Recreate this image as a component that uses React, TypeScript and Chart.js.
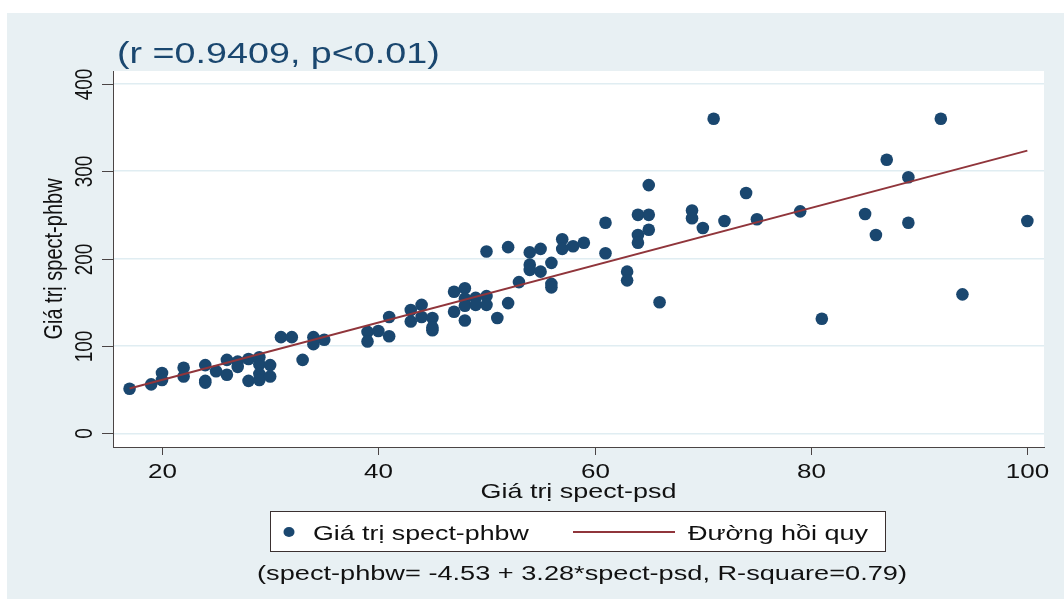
import React, { useEffect, useRef } from "react";
import { Chart, registerables } from "chart.js";

Chart.register(...registerables);

// ---- data ----
const xValues = [
  17, 19, 20, 20, 22, 22, 24, 24, 24, 25, 26, 26, 27, 27, 28, 28, 29, 29, 29, 29, 30, 30, 31, 32, 33, 34, 34, 35,
  39, 39, 40, 41, 41, 43, 43, 44, 44, 45, 45, 45, 47, 47, 48, 48, 48, 48, 49, 49, 50, 50, 50, 51, 52, 52, 53, 54,
  54, 54, 55, 55, 56, 56, 56, 57, 57, 58, 59, 61, 61, 63, 63, 64, 64, 64, 65, 65, 65, 66, 69, 69, 70, 71, 72, 74,
  75, 79, 81, 85, 86, 87, 89, 89, 92, 94, 100,
];
const yValues = [
  51, 56, 69, 61, 75, 65, 78, 60, 58, 71, 67, 84, 82, 76, 85, 60, 87, 79, 68, 61, 78, 65, 110, 110, 84, 110, 102, 107,
  116, 105, 117, 133, 111, 141, 128, 147, 133, 132, 118, 121, 162, 139, 166, 154, 146, 129, 155, 147, 157, 147, 208,
  132, 213, 149, 173, 207, 193, 187, 211, 185, 195, 171, 167, 222, 211, 214, 218, 241, 206, 185, 175, 250, 227, 218,
  284, 250, 233, 150, 255, 246, 235, 360, 243, 275, 245, 254, 131, 251, 227, 313, 293, 241, 360, 159, 243,
];
const lineX = [17, 100];
const lineY = [51.2, 323.5];
const xTicks = [20, 40, 60, 80, 100];
const yTicks = [0, 100, 200, 300, 400];

const titleText = "(r =0.9409, p<0.01)";
const xTitle = "Giá trị spect-psd";
const yTitle = "Giá trị spect-phbw";
const scatterLabel = "Giá trị spect-phbw";
const lineLabel = "Đường hồi quy";
const noteText = "(spect-phbw= -4.53 + 3.28*spect-psd, R-square=0.79)";

// ---- styles ----
const NAVY = "#1a476f";
const MAROON = "#90353b";
const PANEL = "#e8f0f3";
const GRID = "#e0edf2";
const AXIS = "#4a4444";
const TEXT = "#111111";
const FONT = '"Liberation Sans", Arial, sans-serif';
const SX = 1.3;

function drawText(
  ctx: CanvasRenderingContext2D,
  text: string,
  x: number,
  y: number,
  size: number,
  align: CanvasTextAlign,
  color: string,
  rotated = false,
  stretch = SX
) {
  ctx.save();
  ctx.translate(x, y);
  if (rotated) {
    ctx.rotate(-Math.PI / 2);
    ctx.scale(1, stretch);
  } else {
    ctx.scale(stretch, 1);
  }
  ctx.font = `${size}px ${FONT}`;
  ctx.textAlign = align;
  ctx.textBaseline = "alphabetic";
  ctx.fillStyle = color;
  ctx.fillText(text, 0, 0);
  ctx.restore();
}

const decorPlugin = {
  id: "stataDecor",
  beforeDraw(chart: any) {
    const ctx = chart.ctx as CanvasRenderingContext2D;
    const { left, top, right, bottom } = chart.chartArea;
    ctx.save();
    ctx.fillStyle = "#ffffff";
    ctx.fillRect(0, 0, chart.width, chart.height);
    ctx.fillStyle = PANEL;
    ctx.fillRect(7, 13, chart.width - 7, chart.height - 13);
    ctx.fillStyle = "#ffffff";
    ctx.fillRect(left, top, right - left, bottom - top);
    ctx.restore();
  },
  afterDraw(chart: any) {
    const ctx = chart.ctx as CanvasRenderingContext2D;
    const { left, right, bottom } = chart.chartArea;
    const xs = chart.scales.x;
    const ys = chart.scales.y;
    ctx.save();
    ctx.strokeStyle = AXIS;
    ctx.lineWidth = 1;
    // x tick marks + labels
    xs.ticks.forEach((t: any) => {
      const px = Math.round(xs.getPixelForValue(t.value)) + 0.5;
      ctx.beginPath();
      ctx.moveTo(px, bottom);
      ctx.lineTo(px, bottom + 8);
      ctx.stroke();
      drawText(ctx, String(t.value), px, 478, 20, "center", TEXT);
    });
    // y tick marks + labels
    ys.ticks.forEach((t: any) => {
      const py = Math.round(ys.getPixelForValue(t.value)) + 0.5;
      ctx.beginPath();
      ctx.moveTo(left - 11, py);
      ctx.lineTo(left, py);
      ctx.stroke();
      drawText(ctx, String(t.value), 92, py, 19, "center", TEXT, true);
    });
    // axis titles
    drawText(ctx, xTitle, (left + right) / 2, 498, 20.7, "center", TEXT);
    drawText(ctx, yTitle, 62, (chart.chartArea.top + bottom) / 2, 20, "center", TEXT, true);
    // title
    drawText(ctx, titleText, 117, 63, 29, "left", NAVY, false, 1.3);

    // legend box
    const ds = chart.data.datasets;
    ctx.fillStyle = "#ffffff";
    ctx.fillRect(270.5, 511.5, 615, 40);
    ctx.strokeStyle = "#3a3030";
    ctx.lineWidth = 1;
    ctx.strokeRect(270.5, 511.5, 615, 40);
    ctx.fillStyle = NAVY;
    ctx.beginPath();
    ctx.ellipse(289, 532, 5.5, 5, 0, 0, Math.PI * 2);
    ctx.fill();
    drawText(ctx, ds[1].label, 313, 540, 20.6, "left", TEXT);
    ctx.strokeStyle = MAROON;
    ctx.lineWidth = 2;
    ctx.beginPath();
    ctx.moveTo(573, 532);
    ctx.lineTo(675, 532);
    ctx.stroke();
    drawText(ctx, ds[0].label, 688, 540, 20.8, "left", TEXT);

    // note
    drawText(ctx, noteText, 582, 580, 20.9, "center", TEXT);
    ctx.restore();
  },
};

export default function App() {
  const ref = useRef<HTMLCanvasElement | null>(null);
  useEffect(() => {
    if (!ref.current) return;
    const chart = new Chart(ref.current, {
      type: "scatter",
      data: {
        datasets: [
          {
            type: "line",
            label: lineLabel,
            data: lineX.map((x, i) => ({ x, y: lineY[i] })),
            borderColor: MAROON,
            borderWidth: 2,
            pointRadius: 0,
            fill: false,
            order: 0,
          } as any,
          {
            type: "scatter",
            label: scatterLabel,
            data: xValues.map((x, i) => ({ x, y: yValues[i] })),
            pointStyle: "circle",
            pointRadius: 6.3,
            backgroundColor: NAVY,
            borderColor: NAVY,
            borderWidth: 0,
            order: 1,
          } as any,
        ],
      },
      options: {
        responsive: false,
        devicePixelRatio: 1,
        animation: false,
        layout: { padding: { left: 0, top: 71, right: 20, bottom: 0 } },
        plugins: { legend: { display: false }, title: { display: false }, tooltip: { enabled: false } },
        scales: {
          x: {
            type: "linear",
            min: 15.47,
            max: 101.54,
            afterBuildTicks: (s: any) => {
              s.ticks = xTicks.map((v) => ({ value: v }));
            },
            afterFit: (s: any) => {
              s.height = 152;
            },
            ticks: { display: false },
            grid: { display: false },
            border: { display: true, color: AXIS, width: 1 },
          },
          y: {
            type: "linear",
            min: -15.7,
            max: 414.6,
            afterBuildTicks: (s: any) => {
              s.ticks = yTicks.map((v) => ({ value: v }));
            },
            afterFit: (s: any) => {
              s.width = 113;
            },
            ticks: { display: false },
            grid: { display: true, drawTicks: false, color: GRID, lineWidth: 1.5 },
            border: { display: true, color: AXIS, width: 1 },
          },
        },
      },
      plugins: [decorPlugin],
    });
    return () => chart.destroy();
  }, []);
  return (
    <div style={{ position: "absolute", left: 0, top: 0, width: 1064, height: 599 }}>
      <canvas ref={ref} width={1064} height={599} />
    </div>
  );
}
